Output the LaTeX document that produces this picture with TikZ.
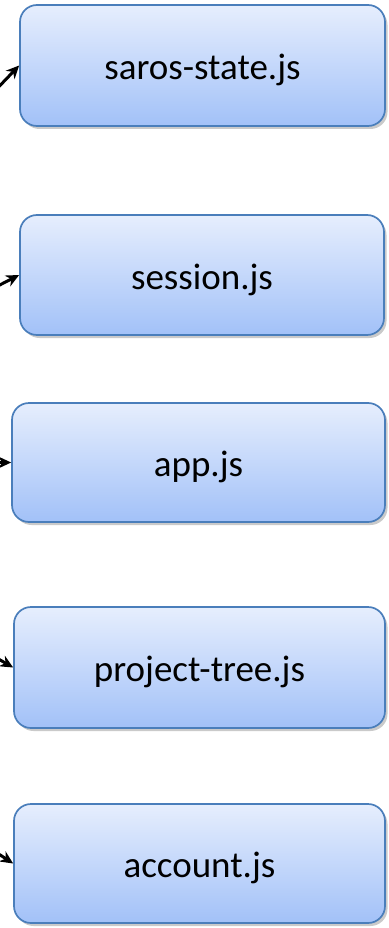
\documentclass[tikz,border=0pt]{standalone}
\usepackage{fontspec}
\setmainfont{Carlito}
\usetikzlibrary{arrows.meta,shadows}
\definecolor{boxtop}{HTML}{E6EEFD}
\definecolor{boxbot}{HTML}{A2C1F8}
\definecolor{boxline}{HTML}{4A7EBB}
\newcommand{\lowtext}[1]{\raisebox{-4.5pt}[\height][\depth]{#1}}
\tikzset{
  filebox/.style={rectangle, rounded corners=17pt, draw=boxline, line width=1.7pt,
    top color=boxtop, bottom color=boxbot,
    drop shadow={shadow xshift=2.5pt, shadow yshift=-3pt, opacity=0.35, fill=black!60},
    font=\fontsize{37}{42}\selectfont, text=black, inner sep=0pt},
  feed/.style={line width=3pt, black, -{Stealth[length=13pt,width=12pt]}}
}
\begin{document}
\begin{tikzpicture}[x=1pt,y=-1pt]
\useasboundingbox (0,0) rectangle (388,928);
\node[filebox, minimum width=365pt, minimum height=121pt] (b1) at (202.5,65.5) {\lowtext{saros-state.js}};
\node[filebox, minimum width=364pt, minimum height=120pt] (b2) at (202,275) {\lowtext{session.js}};
\node[filebox, minimum width=373pt, minimum height=119pt] (b3) at (198.5,462.5) {\lowtext{app.js}};
\node[filebox, minimum width=371pt, minimum height=121pt] (b4) at (199.5,667.5) {\lowtext{project-tree.js}};
\node[filebox, minimum width=371pt, minimum height=119pt] (b5) at (199.5,863.5) {\lowtext{account.js}};
\coordinate (t1) at (-10,96);
\coordinate (t2) at (-12,291);
\coordinate (t3) at (-12,462.5);
\coordinate (t4) at (-12,653);
\coordinate (t5) at (-12,847);
\draw[feed] (t1) -- (b1.west);
\draw[feed] (t2) -- (b2.west);
\draw[feed] (t3) -- (b3.west);
\draw[feed] (t4) -- (b4.west);
\draw[feed] (t5) -- (b5.west);
\end{tikzpicture}
\end{document}
